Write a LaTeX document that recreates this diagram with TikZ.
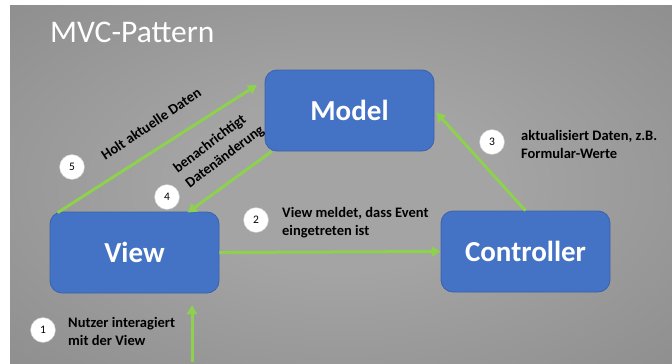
\documentclass[tikz,border=0pt]{standalone}
\usepackage{fontspec}
\setmainfont{Carlito}
\usetikzlibrary{arrows.meta,calc}
\definecolor{boxblue}{HTML}{4472C4}
\definecolor{boxedge}{HTML}{3A62AC}
\definecolor{flow}{HTML}{8DD14E}
\definecolor{bgin}{HTML}{A4A4A4}
\definecolor{bgout}{HTML}{6E6E6E}
% soft light spot in the middle of the slide
\pgfdeclareradialshading{slideglow}{\pgfpoint{0bp}{0bp}}{color(0bp)=(bgin); color(12bp)=(bgin); color(72bp)=(bgout)}
\begin{document}
\begin{tikzpicture}[x=1pt,y=-1pt,
  box/.style={draw=boxedge, line width=0.8pt, fill=boxblue, rounded corners=12pt,
    minimum width=169pt, minimum height=81pt, text=white,
    font=\bfseries\fontsize{29}{30}\selectfont},
  flowline/.style={draw=flow, line width=3pt, -{Triangle[length=9pt,width=10pt]}},
  num/.style={circle, fill=white, draw=gray!45, line width=0.4pt, minimum size=25pt,
    inner sep=0pt, font=\fontsize{11.5}{11.5}\selectfont},
  lbl/.style={font=\bfseries\fontsize{14.5}{18}\selectfont, align=left, inner sep=0pt, text=black},
  slant/.style={font=\bfseries\fontsize{14.5}{18}\selectfont, inner sep=0pt, text=black}]

\useasboundingbox (0,0) rectangle (672,364);
\fill[white] (0,0) rectangle (672,364);
\shade[shading=slideglow] (10,5) rectangle (672,364);

% title
\node[anchor=base west, inner sep=0pt, text=white, font=\fontsize{31.5}{32}\selectfont] (title) at (50,42) {MVC-Pattern};

% the three components
\node[box] (model) at (349.5,110.5) {Model};
\node[box] (view) at (134.5,252.5) {View};
\node[box] (controller) at (525.5,251.5) {Controller};

% free ends of connectors
\coordinate (modeltip) at (257,85);
\coordinate (userfoot) at (192,362);
\coordinate (usertip) at (192,305);

% connectors
\draw[flowline] (usertip |- userfoot) -- (usertip);
\draw[flowline] (view.east) -- (controller.west);
\draw[flowline] (controller.north) -- ($(model.east)+(2,2)$);
\draw[flowline] ($(model.south west)+(7,0)$) -- ($(view.north west)+(138,1)$);
\draw[flowline] ($(view.north west)+(8,1)$) -- (modeltip);

% step numbers
\node[num] (n1) at (43,330) {1};
\node[num] (n2) at (256,220) {2};
\node[num] (n3) at (492,142) {3};
\node[num] (n4) at (167,197) {4};
\node[num] (n5) at (72,167) {5};

% step descriptions
\node[lbl, anchor=west] (t1) at (68,331) {Nutzer interagiert\\mit der View};
\node[lbl, anchor=west] (t2) at (282,223) {View meldet, dass Event\\eingetreten ist};
\node[lbl, anchor=west] (t3) at (521,144) {aktualisiert Daten, z.B.\\Formular-Werte};
\node[slant, rotate=37] (t4a) at (210,144) {benachrichtigt};
\node[slant, rotate=37] (t4b) at (225,157) {Datenänderung};
\node[slant, rotate=34] (t5) at (151,124) {Holt aktuelle Daten};
\end{tikzpicture}
\end{document}
